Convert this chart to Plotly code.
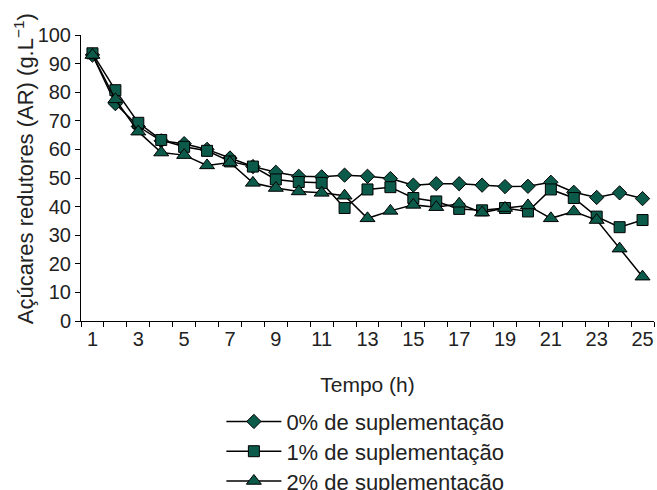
import plotly.graph_objects as go

hours = list(range(1, 26))
tick_labels = [str(h) for h in range(1, 26, 2)]

sup0 = [93, 76, 68, 63, 62, 60, 57, 54, 52, 50.6, 50.4, 51, 50.6, 49.8, 47.5, 48, 48,
        47.5, 47, 47.1, 48.5, 45, 43.2, 44.8, 42.8]
sup1 = [93.6, 80.7, 69.3, 63.3, 60.9, 59.5, 55.8, 54, 49.5, 48.6, 48.3, 39.5, 46, 46.8,
        43, 41.8, 39.2, 38.7, 39.5, 38.3, 46, 43, 36.5, 32.8, 35.3]
sup2 = [93, 77.5, 66.2, 58.9, 58, 54.4, 55.4, 48.3, 46.5, 45.3, 44.8, 43.8, 35.9, 38.5,
        40.6, 39.8, 41, 37.9, 39.5, 40.4, 35.9, 38.3, 35.3, 25.3, 15.5]

names = ["0% de suplementação", "1% de suplementação", "2% de suplementação"]
symbols = ["diamond", "square", "triangle-up"]
sizes = [11, 11, 13]
series = [sup0, sup1, sup2]
legend_ids = ["legend", "legend2", "legend3"]
legend_y = [-0.352, -0.456, -0.560]

FILL = "#0c5a4a"
FONT = "Liberation Sans, Arial, sans-serif"
TXT = "#222222"

fig = go.Figure()
for name, vals, sym, sz, lg in zip(names, series, symbols, sizes, legend_ids):
    fig.add_trace(go.Scatter(
        x=hours, y=vals, name=name, mode="lines+markers", legend=lg,
        line=dict(color="black", width=1.5),
        marker=dict(symbol=sym, size=sz, color=FILL, line=dict(color="black", width=1)),
    ))

legend_common = dict(x=0.245, xanchor="left", yanchor="middle",
                     xref="paper", yref="paper",
                     font=dict(size=22, color=TXT), bgcolor="rgba(0,0,0,0)",
                     itemwidth=55)

fig.update_layout(
    width=657, height=490,
    margin=dict(l=81, r=3, t=35, b=169, autoexpand=False),
    paper_bgcolor="white", plot_bgcolor="white",
    font=dict(family=FONT, size=20, color=TXT),
    showlegend=True,
    legend=dict(y=legend_y[0], **legend_common),
    legend2=dict(y=legend_y[1], **legend_common),
    legend3=dict(y=legend_y[2], **legend_common),
)
fig.update_xaxes(
    range=[0.5, 25.5], showgrid=False, zeroline=False, automargin=False,
    showline=True, linecolor="black", linewidth=1,
    tickmode="array", tickvals=[int(t) for t in tick_labels], ticktext=tick_labels,
    ticks="",
    minor=dict(tickmode="linear", tick0=0.5, dtick=1, ticks="outside",
               ticklen=5, tickcolor="black", tickwidth=1),
    title=dict(text="Tempo (h)", standoff=28, font=dict(size=21)),
    tickfont=dict(size=20),
)
fig.update_yaxes(
    range=[0, 100], showgrid=False, zeroline=False, automargin=False,
    showline=True, linecolor="black", linewidth=1,
    tickmode="linear", tick0=0, dtick=10,
    ticks="outside", ticklen=5, tickcolor="black",
    tickfont=dict(size=20),
)
fig.add_annotation(
    text="Açúcares redutores (AR) (g.L<sup>−1</sup>)",
    xref="paper", yref="paper", x=(24 - 81) / 573, y=(320.7 - 169) / 285.7,
    xanchor="center", yanchor="middle", textangle=-90, showarrow=False,
    font=dict(size=22, color=TXT),
)

fig.write_html(
    "out.html",
    config={"displayModeBar": False},
    post_script="document.body.style.margin='0px';document.body.style.padding='0px';",
)
